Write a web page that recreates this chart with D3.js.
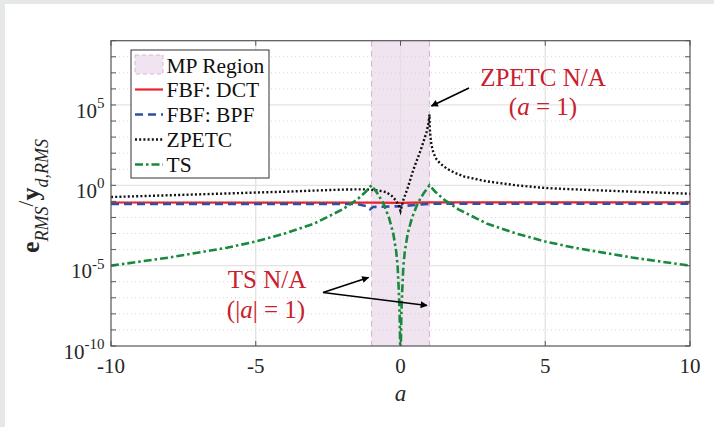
<!DOCTYPE html>
<html lang="en">
<head>
    <meta charset="UTF-8">
    <title>RMS error vs a</title>
    <script src="https://d3js.org/d3.v7.min.js"></script>
    <style>
        html, body {
            margin: 0;
            padding: 0;
            background: #fff;
            overflow: hidden;
        }
        svg {
            display: block;
        }
        svg text {
            font-family: "Liberation Serif", "Times New Roman", serif;
        }
        .tick-label {
            font-size: 21px;
            fill: #262626;
        }
        .note {
            font-size: 25px;
            fill: #c8202e;
        }
    </style>
</head>
<body>
    <svg id="chart" width="714" height="427"></svg>

    <script>
        // ---- data ----
        const dctA = [-10, -1, 0, 1, 10];
        const dctVal = [0.085, 0.084, 0.08, 0.087, 0.087];

        const bpfA = [-10, -1.5, -1.15, -1.05, -0.95, -0.5, 0, 0.5, 1, 10];
        const bpfVal = [0.069, 0.069, 0.05, 0.032, 0.045, 0.047, 0.05, 0.06, 0.071, 0.072];

        const zpetcA = [-10, -8, -6, -5, -4, -3, -2, -1.5, -1.2, -1, -0.75, -0.5, -0.3, -0.15, -0.05, 0,
                        0.1, 0.25, 0.45, 0.7, 0.9, 0.97, 1,
                        1.01, 1.03, 1.07, 1.14, 1.25, 1.38, 1.6, 1.85, 2.2, 2.95, 4, 5, 6, 7.6, 10];
        const zpetcVal = [0.186, 0.24, 0.31, 0.355, 0.4, 0.47, 0.54, 0.56, 0.56, 0.52, 0.47, 0.38, 0.22, 0.11, 0.05, 0.025,
                          0.126, 0.71, 10, 160, 2000, 8000, 25000,
                          4000, 1260, 316, 100, 40, 22, 11, 6.3, 3.5, 1.8, 1.0, 0.68, 0.56, 0.43, 0.30];

        const tsA = [-10, -8, -6, -5, -4, -3, -2, -1.5, -1.2, -1, -0.8, -0.6, -0.4, -0.25, -0.15, -0.1, -0.06, -0.03, -0.012, 0,
                     0.012, 0.03, 0.06, 0.1, 0.15, 0.25, 0.4, 0.6, 0.8, 1, 1.2, 1.5, 2, 3, 4, 5, 6, 8, 10];
        const tsVal = [1e-5, 3.2e-5, 1.3e-4, 3.2e-4, 1e-3, 4e-3, 0.032, 0.13, 0.4, 1, 0.32, 0.08, 0.01, 1e-3, 8e-5, 1e-5, 3e-7, 1e-8, 1e-10, 1e-13,
                       1e-10, 1e-8, 3e-7, 1e-5, 8e-5, 1e-3, 0.01, 0.08, 0.32, 1, 0.4, 0.13, 0.032, 4e-3, 1e-3, 3.2e-4, 1.3e-4, 3.2e-5, 1e-5];

        const xTicks = [-10, -5, 0, 5, 10];
        const yMajorExp = [-10, -5, 0, 5];
        const mpRegion = [-1, 1];

        // ---- layout ----
        const svg = d3.select("#chart");
        const plotL = 111, plotR = 690, plotT = 40.7, plotB = 346;

        // light grey frame strips on top/left
        svg.append("rect").attr("x", 0).attr("y", 0).attr("width", 714).attr("height", 4).attr("fill", "#e6e7e9");
        svg.append("rect").attr("x", 0).attr("y", 0).attr("width", 5).attr("height", 427).attr("fill", "#e6e7e9");

        const x = d3.scaleLinear().domain([-10, 10]).range([plotL, plotR]);
        const y = d3.scaleLog().domain([1e-10, 1e9]).range([plotB, plotT]);

        const defs = svg.append("defs");
        defs.append("clipPath").attr("id", "plotclip")
            .append("rect").attr("x", plotL).attr("y", plotT)
            .attr("width", plotR - plotL).attr("height", plotB - plotT);

        // MP region patch
        svg.append("rect")
            .attr("x", x(mpRegion[0])).attr("y", plotT)
            .attr("width", x(mpRegion[1]) - x(mpRegion[0]))
            .attr("height", plotB - plotT)
            .attr("fill", "#f1e4f1");
        mpRegion.forEach(v => {
            svg.append("line")
                .attr("x1", x(v)).attr("x2", x(v)).attr("y1", plotT).attr("y2", plotB)
                .attr("stroke", "#d6b8d6").attr("stroke-width", 1.2)
                .attr("stroke-dasharray", "6,4");
        });

        // grid
        const grid = svg.append("g");
        d3.range(-9, 9).forEach(e => {
            const major = yMajorExp.includes(e);
            grid.append("line")
                .attr("x1", plotL).attr("x2", plotR)
                .attr("y1", y(Math.pow(10, e))).attr("y2", y(Math.pow(10, e)))
                .attr("stroke", major ? "#e3e3e3" : "#d6d6d6")
                .attr("stroke-width", major ? 1.2 : 1)
                .attr("stroke-dasharray", major ? null : "1,3");
        });
        xTicks.slice(1, -1).forEach(t => {
            grid.append("line")
                .attr("x1", x(t)).attr("x2", x(t)).attr("y1", plotT).attr("y2", plotB)
                .attr("stroke", "#e0e0e0").attr("stroke-width", 1.2);
        });

        // curves
        const line = d3.line().x(d => x(d[0])).y(d => y(d[1]));
        const plot = svg.append("g").attr("clip-path", "url(#plotclip)");

        const series = [
            { name: "FBF: DCT", a: dctA, v: dctVal, color: "#e8232b", width: 2.2, dash: null },
            { name: "FBF: BPF", a: bpfA, v: bpfVal, color: "#2e4fa6", width: 2.6, dash: "8,5" },
            { name: "ZPETC", a: zpetcA, v: zpetcVal, color: "#111", width: 2.4, dash: "2,2.2" },
            { name: "TS", a: tsA, v: tsVal, color: "#178a3e", width: 2.6, dash: "8,3,2.5,3" }
        ];

        series.forEach(s => {
            plot.append("path")
                .datum(d3.zip(s.a, s.v))
                .attr("d", line)
                .attr("fill", "none")
                .attr("stroke", s.color)
                .attr("stroke-width", s.width)
                .attr("stroke-dasharray", s.dash);
        });

        // axes box
        const axisColor = "#555";
        svg.append("rect")
            .attr("x", plotL).attr("y", plotT)
            .attr("width", plotR - plotL).attr("height", plotB - plotT)
            .attr("fill", "none").attr("stroke", axisColor).attr("stroke-width", 1.2);

        // y ticks (both sides) at each decade
        d3.range(-10, 10).forEach(e => {
            const yy = y(Math.pow(10, e));
            const len = 5;
            svg.append("line").attr("x1", plotL).attr("x2", plotL + len).attr("y1", yy).attr("y2", yy)
                .attr("stroke", axisColor);
            svg.append("line").attr("x1", plotR).attr("x2", plotR - len).attr("y1", yy).attr("y2", yy)
                .attr("stroke", axisColor);
        });
        xTicks.forEach(t => {
            svg.append("line").attr("x1", x(t)).attr("x2", x(t)).attr("y1", plotB).attr("y2", plotB - 5)
                .attr("stroke", axisColor);
            svg.append("line").attr("x1", x(t)).attr("x2", x(t)).attr("y1", plotT).attr("y2", plotT + 5)
                .attr("stroke", axisColor);
        });

        // x tick labels
        xTicks.forEach(t => {
            svg.append("text")
                .attr("class", "tick-label")
                .attr("x", x(t)).attr("y", 373)
                .attr("text-anchor", "middle")
                .text(t);
        });

        // y tick labels 10^n
        yMajorExp.forEach(e => {
            const t = svg.append("text")
                .attr("class", "tick-label")
                .attr("x", 104.5).attr("y", y(Math.pow(10, e)) + 12.6)
                .attr("text-anchor", "end")
                .attr("font-size", 22);
            t.append("tspan").text("10");
            t.append("tspan").attr("dy", -9.6).attr("font-size", 15).text(e);
        });

        // x label
        svg.append("text")
            .attr("x", x(0)).attr("y", 401)
            .attr("text-anchor", "middle")
            .attr("font-size", 23).attr("font-style", "italic").attr("fill", "#262626")
            .text("a");

        // y label
        const yl = svg.append("text")
            .attr("transform", "translate(38.5,196) rotate(-90)")
            .attr("text-anchor", "middle")
            .attr("font-size", 26).attr("fill", "#262626");
        yl.append("tspan").attr("font-weight", "bold").text("e");
        yl.append("tspan").attr("font-style", "italic").attr("font-size", 18).attr("dy", 9).text("RMS");
        yl.append("tspan").attr("font-size", 21).attr("dy", -15).text("/");
        yl.append("tspan").attr("font-weight", "bold").attr("dy", 6).text("y");
        yl.append("tspan").attr("font-style", "italic").attr("font-size", 18).attr("dy", 9).text("d,RMS");

        // legend
        const lg = svg.append("g");
        lg.append("rect")
            .attr("x", 131).attr("y", 50).attr("width", 138).attr("height", 128)
            .attr("fill", "#fff").attr("stroke", "#333").attr("stroke-width", 1);
        lg.append("rect")
            .attr("x", 135).attr("y", 55).attr("width", 28).attr("height", 19)
            .attr("fill", "#f1e4f1").attr("stroke", "#d6b8d6").attr("stroke-dasharray", "4,3");
        lg.append("text").attr("x", 166.5).attr("y", 72.5).attr("font-size", 21.5).attr("fill", "#111").text("MP Region");
        series.forEach((s, i) => {
            const cy = 89.5 + i * 25;
            lg.append("line")
                .attr("x1", 135).attr("x2", 163).attr("y1", cy).attr("y2", cy)
                .attr("stroke", s.color).attr("stroke-width", s.width)
                .attr("stroke-dasharray", s.dash);
            lg.append("text").attr("x", 166.5).attr("y", cy + 7.5)
                .attr("font-size", 21.5).attr("fill", "#111").text(s.name);
        });

        // annotations
        defs.append("marker")
            .attr("id", "arrow").attr("viewBox", "0 0 10 10")
            .attr("refX", 9).attr("refY", 5)
            .attr("markerWidth", 9).attr("markerHeight", 7)
            .attr("markerUnits", "userSpaceOnUse")
            .attr("orient", "auto")
            .append("path").attr("d", "M0,0 L10,5 L0,10 z").attr("fill", "#000");

        svg.append("text").attr("class", "note").attr("x", 543).attr("y", 86)
            .attr("text-anchor", "middle").text("ZPETC N/A");
        const n2 = svg.append("text").attr("class", "note").attr("x", 543).attr("y", 115)
            .attr("text-anchor", "middle");
        n2.append("tspan").text("(");
        n2.append("tspan").attr("font-style", "italic").text("a");
        n2.append("tspan").text(" = 1)");

        svg.append("line")
            .attr("x1", 469).attr("y1", 88).attr("x2", 431.5).attr("y2", 106)
            .attr("stroke", "#000").attr("stroke-width", 1.6).attr("marker-end", "url(#arrow)");

        svg.append("text").attr("class", "note").attr("x", 267).attr("y", 288)
            .attr("text-anchor", "middle").text("TS N/A");
        const n4 = svg.append("text").attr("class", "note").attr("x", 266).attr("y", 318)
            .attr("text-anchor", "middle");
        n4.append("tspan").text("(|");
        n4.append("tspan").attr("font-style", "italic").text("a");
        n4.append("tspan").text("| = 1)");

        svg.append("line")
            .attr("x1", 323).attr("y1", 292.5).attr("x2", 368.5).attr("y2", 277.5)
            .attr("stroke", "#000").attr("stroke-width", 1.6).attr("marker-end", "url(#arrow)");
        svg.append("line")
            .attr("x1", 323).attr("y1", 292.5).attr("x2", 427).attr("y2", 305.5)
            .attr("stroke", "#000").attr("stroke-width", 1.6).attr("marker-end", "url(#arrow)");
    </script>
</body>
</html>
